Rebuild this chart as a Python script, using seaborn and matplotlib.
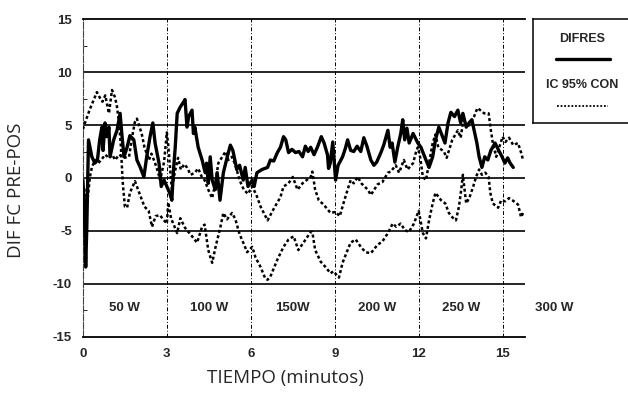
import numpy as np
import pandas as pd
import seaborn as sns
import matplotlib
matplotlib.use("Agg")
from matplotlib import pyplot as plt

# DIFRES: diferencia de FC pre-post (linea gruesa)
t_dif = [0.0, 0.05, 0.1, 0.14, 0.2, 0.32, 0.43, 0.52, 0.6, 0.68, 0.72, 0.79, 0.85, 0.93, 0.97,
         1.1, 1.22, 1.33, 1.4, 1.47, 1.58, 1.68, 1.82, 1.93, 2.05, 2.18, 2.28, 2.4, 2.5, 2.58,
         2.72, 2.8, 2.9, 3.0, 3.1, 3.18, 3.23, 3.3, 3.37, 3.48, 3.58, 3.65, 3.72, 3.78, 3.9,
         3.95, 4.0, 4.12, 4.26, 4.37, 4.42, 4.48, 4.55, 4.62, 4.73, 4.8, 4.9, 5.02, 5.16, 5.27,
         5.36, 5.5, 5.6, 5.73, 5.8, 5.9, 6.05, 6.12, 6.22, 6.4, 6.6, 6.7, 6.82, 6.95, 7.06,
         7.17, 7.25, 7.35, 7.47, 7.6, 7.72, 7.85, 7.95, 8.05, 8.14, 8.26, 8.38, 8.52, 8.62,
         8.74, 8.78, 8.84, 8.93, 9.03, 9.12, 9.28, 9.38, 9.46, 9.57, 9.68, 9.8, 9.93, 10.04,
         10.15, 10.29, 10.4, 10.5, 10.65, 10.75, 10.9, 10.98, 11.05, 11.15, 11.25, 11.36,
         11.43, 11.5, 11.58, 11.66, 11.8, 11.97, 12.08, 12.26, 12.37, 12.5, 12.6, 12.72,
         12.85, 12.94, 13.05, 13.15, 13.28, 13.4, 13.5, 13.58, 13.7, 13.8, 13.9, 13.98,
         14.08, 14.16, 14.26, 14.36, 14.47, 14.58, 14.73, 14.86, 14.98, 15.08, 15.18, 15.27,
         15.38]
difres = [-0.2, -2.5, -8.4, -4.6, 3.6, 2.0, 1.4, 1.7, 3.6, 4.8, 2.6, 5.2, 3.9, 4.8, 2.0,
          3.6, 4.5, 6.1, 3.9, 2.0, 2.9, 4.0, 3.6, 1.7, 1.0, 0.1, 2.0, 3.9, 5.2, 3.3,
          1.4, -0.8, -0.2, -0.8, -1.4, -2.1, 0.5, 2.9, 6.1, 6.7, 7.1, 7.4, 4.8, 5.8, 6.4,
          4.2, 4.8, 2.9, 1.7, 0.5, 1.4, -0.5, 2.0, -0.2, -1.1, 0.5, -2.1, 0.5, 2.0, 3.1,
          2.6, 0.8, 1.2, -0.2, 1.0, -0.8, -0.2, -0.8, 0.5, 0.8, 1.0, 1.7, 1.6, 2.4, 2.9,
          3.9, 3.6, 2.4, 2.7, 2.4, 2.5, 2.0, 3.0, 2.5, 2.9, 2.2, 2.9, 3.9, 3.3,
          2.2, 0.9, 1.4, 3.4, -0.2, 1.2, 2.0, 2.8, 3.6, 2.6, 2.5, 3.0, 2.5, 3.8,
          3.0, 1.7, 1.2, 1.5, 2.4, 3.1, 4.5, 2.9, 3.3, 1.5, 2.9, 4.2,
          5.5, 3.6, 4.7, 3.3, 4.2, 3.3, 2.9, 1.7, 1.0, 2.0, 3.6, 4.8,
          3.9, 3.3, 5.2, 6.2, 5.8, 6.4, 5.2, 6.1, 4.8, 5.2, 5.5, 4.5,
          3.3, 2.0, 1.0, 2.0, 1.7, 2.6, 3.3, 2.6, 2.0, 1.4, 1.9, 1.4,
          1.0]

# IC 95%: primera curva (empieza arriba y cruza hacia abajo)
t_ic1 = [0.0, 0.1, 0.25, 0.5, 0.6, 0.7, 0.8, 0.93, 1.04, 1.15, 1.22, 1.3, 1.36, 1.42, 1.5,
         1.58, 1.68, 1.86, 2.0, 2.2, 2.35, 2.47, 2.6, 2.75, 2.9, 3.0, 3.05, 3.15, 3.37, 3.48,
         3.65, 3.9, 4.08, 4.26, 4.35, 4.48, 4.62, 4.75, 4.9, 5.02, 5.15, 5.33, 5.45, 5.6,
         5.73, 5.87, 6.05, 6.17, 6.35, 6.52, 6.6, 6.7, 6.95, 7.17, 7.35, 7.53, 7.7, 7.96,
         8.14, 8.2, 8.3, 8.5, 8.67, 8.85, 8.95, 9.15, 9.28, 9.46, 9.57, 9.75, 9.93, 10.1,
         10.29, 10.53, 10.7, 10.9, 11.07, 11.2, 11.36, 11.5, 11.65, 11.83, 12.0, 12.15,
         12.26, 12.37, 12.5, 12.6, 12.8, 12.95, 13.08, 13.2, 13.33, 13.44, 13.52, 13.58,
         13.64, 13.7, 13.82, 13.95, 14.05, 14.16, 14.26, 14.38, 14.5, 14.56, 14.65, 14.84,
         14.95, 15.08, 15.23, 15.35, 15.55, 15.66, 15.73]
ic1 = [4.6, 5.4, 6.5, 8.1, 7.6, 7.2, 7.8, 6.1, 8.3, 7.6, 6.7, 5.0, 2.9, -0.3, -2.7,
       -2.8, -1.4, -0.3, -1.3, -2.7, -3.1, -4.6, -3.6, -3.5, -4.0, -4.3, -2.3, -3.8, -5.2, -3.8,
       -4.7, -5.5, -6.1, -4.6, -4.4, -6.8, -8.0, -6.4, -4.8, -3.3, -3.9, -3.3, -3.9, -5.3,
       -6.1, -7.0, -6.5, -7.5, -8.4, -9.5, -9.6, -9.3, -7.7, -6.5, -5.8, -5.5, -6.8, -5.8,
       -5.1, -5.1, -6.8, -7.9, -8.4, -9.0, -8.8, -9.4, -8.0, -6.8, -6.1, -5.8, -6.5, -7.0,
       -7.1, -6.3, -6.0, -5.2, -4.3, -4.6, -4.3, -4.9, -5.1, -4.3, -3.1, -5.2,
       -5.7, -4.0, -2.4, -1.4, -2.1, -2.4, -3.3, -3.7, -4.0, -2.7, -1.1, 0.3,
       -1.1, -2.4, -1.8, -0.8, 0.1, 0.8, 0.3, 0.5, 0.1, -1.4, -2.4, -2.8,
       -2.1, -2.2, -1.9, -2.1, -2.5, -3.7, -3.3]

# IC 95%: segunda curva (empieza abajo y pasa a ser la superior)
t_ic2 = [0.05, 0.12, 0.2, 0.25, 0.32, 0.43, 0.55, 0.68, 0.8, 0.93, 1.05, 1.15, 1.3, 1.45,
         1.65, 1.76, 1.86, 1.93, 2.1, 2.2, 2.36, 2.45, 2.58, 2.68, 2.76, 2.9, 3.0, 3.05, 3.1,
         3.18, 3.28, 3.4, 3.5, 3.62, 3.72, 3.85, 4.0, 4.12, 4.25, 4.35, 4.48, 4.62, 4.73,
         4.84, 4.98, 5.1, 5.2, 5.33, 5.45, 5.6, 5.75, 5.9, 6.05, 6.2, 6.35, 6.6, 6.8, 7.06,
         7.17, 7.35, 7.5, 7.67, 7.85, 8.14, 8.2, 8.3, 8.43, 8.6, 8.85, 9.03, 9.18, 9.3, 9.46,
         9.57, 9.68, 9.82, 9.95, 10.18, 10.29, 10.53, 10.7, 10.9, 11.0, 11.18, 11.3, 11.47,
         11.6, 11.8, 11.9, 11.97, 12.05, 12.15, 12.26, 12.37, 12.5, 12.6, 12.7, 12.9, 13.0,
         13.2, 13.4, 13.5, 13.6, 13.75, 13.98, 14.1, 14.2, 14.34, 14.5, 14.58, 14.65, 14.77,
         14.88, 15.0, 15.1, 15.23, 15.38, 15.55, 15.66, 15.73]
ic2 = [-1.0, -3.0, -1.2, 0.1, 1.0, 1.7, 1.4, 1.8, 2.2, 1.9, 2.2, 1.7, 2.2, 1.9,
       2.0, 3.9, 5.3, 5.6, 4.2, 2.9, 1.7, 2.3, 1.4, 0.6, -0.2, 1.5, 4.3, 3.1, 1.4,
       -1.1, 0.5, 1.9, 0.8, 1.3, 1.0, 0.3, 0.5, 0.9, 0.1, -0.2, -1.1, -1.9, -0.5,
       1.4, 2.0, 2.5, 1.7, 2.0, 1.2, -0.2, -1.1, -1.5, -0.8, -1.6, -2.7, -4.0, -3.0, -1.8,
       -0.8, -0.5, 0.1, -1.1, -0.5, 0.1, 0.6, -1.1, -2.1, -2.5, -3.3, -3.2, -3.6, -2.5, -1.1,
       -0.2, -0.5, 0.1, -0.5, -1.1, -1.6, -0.6, -0.4, 0.5, 0.6, 1.2, 0.5, 1.7,
       0.8, 1.4, 2.4, 2.9, 2.0, 0.1, -0.2, 1.4, 3.3, 4.1, 2.9, 2.5, 1.9,
       3.6, 4.5, 3.8, 5.5, 4.8, 5.8, 6.6, 6.4, 6.1, 6.1, 4.5, 3.3, 2.0,
       2.9, 3.9, 3.4, 3.8, 3.1, 3.3, 2.4, 1.7]

y_ticks = [-15, -10, -5, 0, 5, 10, 15]
x_ticks = [0, 3, 6, 9, 12, 15]
etapas = ["50 W", "100 W", "150W", "200 W", "250 W", "300 W"]
series_labels = ["DIFRES", "IC 95% CON"]

sns.set_style("white")
plt.rcParams["font.family"] = ["Liberation Sans", "DejaVu Sans"]
plt.rcParams["axes.unicode_minus"] = False

fig = plt.figure(figsize=(6.28, 4.05), dpi=100)
ax = fig.add_axes([0.132, 0.168, 0.704, 0.785])

df_dif = pd.DataFrame({"t": t_dif, "v": difres})
df_ic1 = pd.DataFrame({"t": t_ic1, "v": ic1})
df_ic2 = pd.DataFrame({"t": t_ic2, "v": ic2})

dots = (0, (1.2, 1.0))
sns.lineplot(data=df_ic1, x="t", y="v", ax=ax, color="black", lw=1.8, linestyle=dots,
             estimator=None, sort=False, zorder=3)
sns.lineplot(data=df_ic2, x="t", y="v", ax=ax, color="black", lw=1.8, linestyle=dots,
             estimator=None, sort=False, zorder=3)
sns.lineplot(data=df_dif, x="t", y="v", ax=ax, color="black", lw=2.4,
             estimator=None, sort=False, zorder=4)

ax.set_xlim(0, 15.8)
ax.set_ylim(-15, 15)
ax.set_xticks(x_ticks)
ax.set_yticks(y_ticks)
ax.set_yticks(np.arange(-12.5, 15, 5), minor=True)

# reticula: horizontales continuas, verticales discontinuas
for yv in y_ticks[1:-1]:
    ax.axhline(yv, color="black", lw=1.2, zorder=2)
for xv in x_ticks[1:]:
    ax.axvline(xv, color="black", lw=0.7, linestyle=(0, (4, 2, 1, 2)), zorder=2)

for s in ["top", "bottom"]:
    ax.spines[s].set_color("black")
    ax.spines[s].set_linewidth(1.3)
ax.spines["right"].set_visible(False)
ax.spines["left"].set_color("#444444")
ax.spines["left"].set_linewidth(0.8)
ax.spines["left"].set_linestyle((0, (6, 1.5)))

ax.tick_params(axis="both", which="major", length=0, labelsize=9.5, pad=8)
ax.tick_params(axis="y", which="minor", length=3, direction="in", width=0.7, left=True)
for lab in ax.get_xticklabels() + ax.get_yticklabels():
    lab.set_fontweight("bold")

for i, txt in enumerate(etapas):
    ax.text(1.5 + 3 * i + (0.35 if i == 5 else 0), -12.3, txt, ha="center", va="center",
            fontsize=9.5, fontweight="bold", clip_on=False)

ax.set_xlabel("TIEMPO (minutos)", fontsize=13.5, family=["Open Sans", "DejaVu Sans"])
ax.set_ylabel("DIF FC PRE-POS", fontsize=13.5, family=["Open Sans", "DejaVu Sans"])
ax.xaxis.set_label_coords(0.457, -0.10)
ax.yaxis.set_label_coords(-0.13, 0.462)

# cuadro de leyenda
lax = fig.add_axes([0.849, 0.696, 0.17, 0.257])
lax.set_xlim(0, 1)
lax.set_ylim(0, 1)
lax.set_xticks([])
lax.set_yticks([])
for s in lax.spines.values():
    s.set_color("black")
    s.set_linewidth(1.1)
lax.text(0.46, 0.81, series_labels[0], ha="center", va="center", fontsize=9, fontweight="bold")
lax.plot([0.21, 0.72], [0.615, 0.615], color="black", lw=2.4)
lax.text(0.46, 0.365, series_labels[1], ha="center", va="center", fontsize=9, fontweight="bold")
lax.plot([0.22, 0.70], [0.16, 0.16], color="black", lw=1.3, linestyle=(0, (1, 1)))

fig.savefig("out.png", dpi=100)
